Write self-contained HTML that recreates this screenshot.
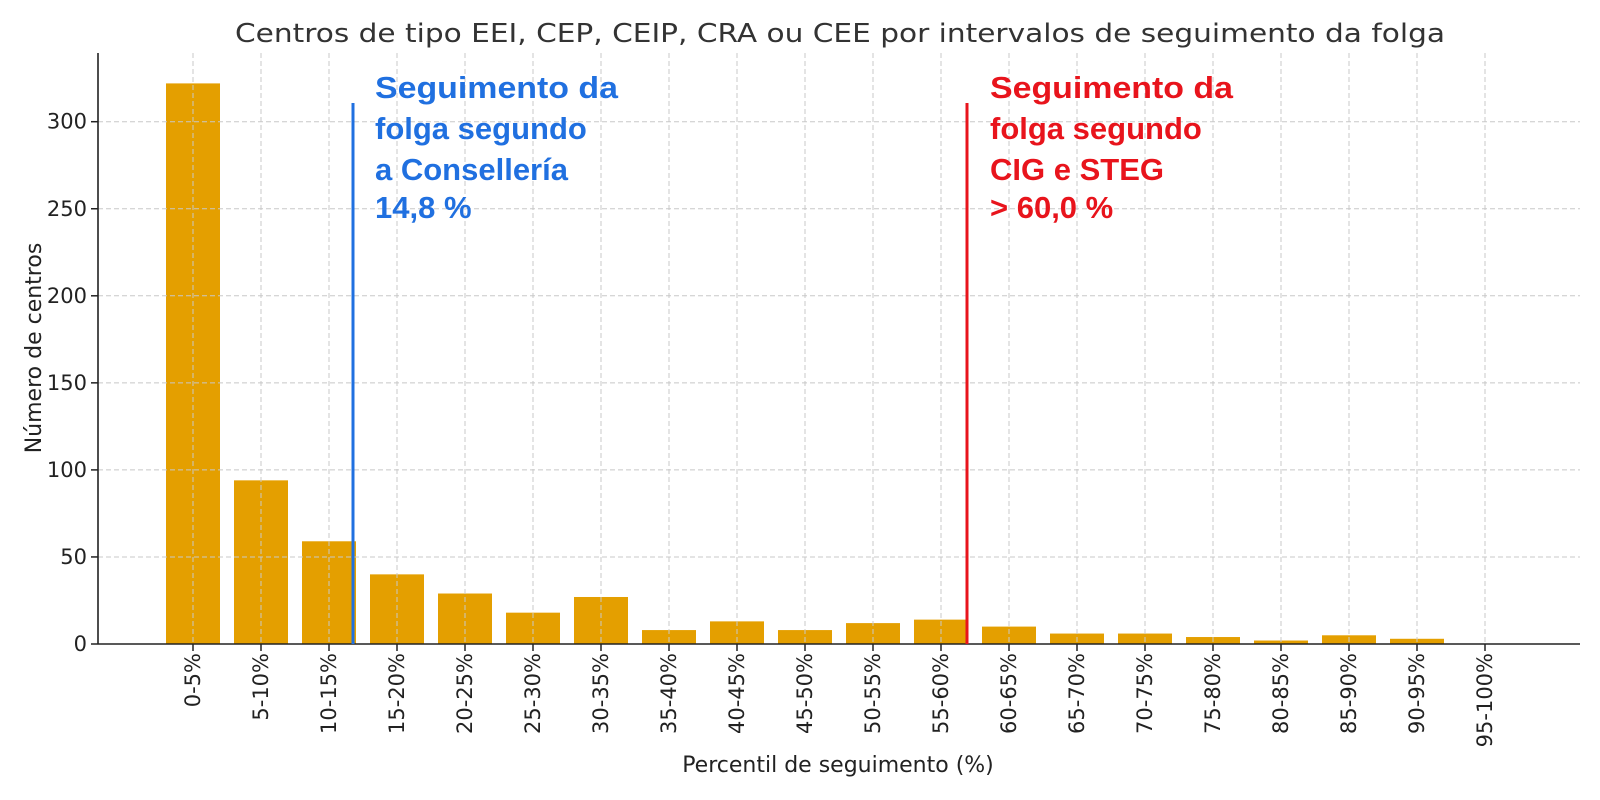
<!DOCTYPE html>
<html><head><meta charset="utf-8"><style>body{margin:0;background:#fff}svg{display:block}</style></head>
<body>
<svg width="1600" height="800" viewBox="0 0 1600 800" xmlns="http://www.w3.org/2000/svg" font-family="DejaVu Sans, Liberation Sans, sans-serif">
<rect width="1600" height="800" fill="#fff"/>
<g id="bars" fill="#e49f00"></g>
<g id="grid" stroke="#c8c8c8" stroke-width="1" stroke-dasharray="5,3"></g>
<g id="ticks"></g>
<line x1="98" y1="53" x2="98" y2="644" stroke="#222" stroke-width="1.6"/>
<line x1="98" y1="644" x2="1580" y2="644" stroke="#222" stroke-width="1.6"/>
<line x1="353" y1="103" x2="353" y2="644" stroke="#2070e0" stroke-width="3"/>
<line x1="967" y1="103" x2="967" y2="644" stroke="#e8141c" stroke-width="3"/>
<g font-family="Liberation Sans, sans-serif" font-weight="bold" font-size="31" fill="#2070e0">
<text x="375" y="98" textLength="243" lengthAdjust="spacingAndGlyphs">Seguimento da</text>
<text x="375" y="139">folga segundo</text>
<text x="375" y="180">a Consellería</text>
<text x="375" y="218">14,8 %</text>
</g>
<g font-family="Liberation Sans, sans-serif" font-weight="bold" font-size="31" fill="#e8141c">
<text x="990" y="98" textLength="243" lengthAdjust="spacingAndGlyphs">Seguimento da</text>
<text x="990" y="139">folga segundo</text>
<text x="990" y="180">CIG e STEG</text>
<text x="990" y="218">&gt; 60,0 %</text>
</g>
<text x="840" y="42" font-size="26" fill="#333" text-anchor="middle" textLength="1210" lengthAdjust="spacingAndGlyphs">Centros de tipo EEI, CEP, CEIP, CRA ou CEE por intervalos de seguimento da folga</text>
<text x="838" y="772" font-size="22" fill="#222" text-anchor="middle">Percentil de seguimento (%)</text>
<text transform="translate(41,348) rotate(-90)" font-size="22" fill="#222" text-anchor="middle">Número de centros</text>
</svg>
<script>
const ns="http://www.w3.org/2000/svg";
const vals=[322,94,59,40,29,18,27,8,13,8,12,14,10,6,6,4,2,5,3,0];
const y=v=>644-1.741*v;
const bars=document.getElementById('bars'),grid=document.getElementById('grid'),ticks=document.getElementById('ticks');
function el(p,t,a,txt){const e=document.createElementNS(ns,t);for(const k in a)e.setAttribute(k,a[k]);if(txt!=null)e.textContent=txt;p.appendChild(e);return e;}
vals.forEach((v,i)=>{
 const cx=193+i*68;
 if(v>0) el(bars,'rect',{x:cx-27,y:y(v),width:54,height:644-y(v)});
 el(grid,'line',{x1:cx,y1:53,x2:cx,y2:644});
 el(ticks,'line',{x1:cx,y1:644,x2:cx,y2:651,stroke:'#222','stroke-width':1.5});
 const lab=(i*5)+'-'+(i*5+5)+'%';
 el(ticks,'text',{transform:`translate(${cx+7},653) rotate(-90)`,'font-size':21,fill:'#222','text-anchor':'end'},lab);
});
for(let v=0;v<=300;v+=50){
 const yy=y(v);
 if(v>0) el(grid,'line',{x1:98,y1:yy,x2:1580,y2:yy});
 el(ticks,'line',{x1:91,y1:yy,x2:98,y2:yy,stroke:'#222','stroke-width':1.5});
 el(ticks,'text',{x:87,y:yy+7,'font-size':21,fill:'#222','text-anchor':'end'},String(v));
}
</script>
</body></html>
